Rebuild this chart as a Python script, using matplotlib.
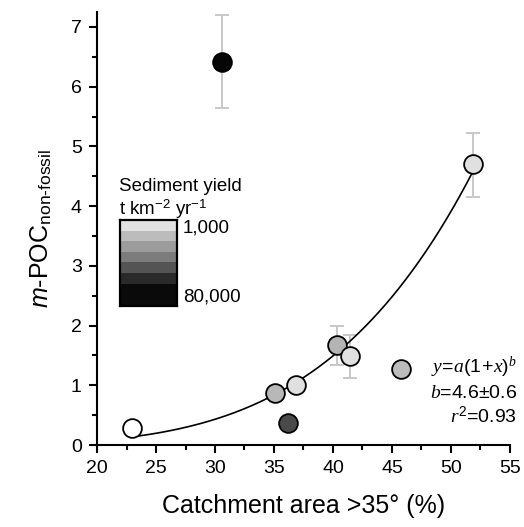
import numpy as np
import matplotlib
matplotlib.use("Agg")
import matplotlib.pyplot as plt
from matplotlib.ticker import MultipleLocator

plt.rcParams['font.family'] = ['Liberation Sans', 'DejaVu Sans']
plt.rcParams['mathtext.fontset'] = 'custom'
plt.rcParams['mathtext.rm'] = 'Liberation Sans'
plt.rcParams['mathtext.it'] = 'Liberation Serif:italic'
plt.rcParams['mathtext.sf'] = 'Liberation Sans:italic'

# ---- data ----
catchment = [23.0, 30.6, 35.1, 36.9, 36.2, 40.3, 41.4, 45.8, 51.9]
mpoc = [0.28, 6.41, 0.87, 1.00, 0.37, 1.67, 1.49, 1.27, 4.71]
err_lo = [0.0, 0.77, 0.0, 0.0, 0.0, 0.33, 0.37, 0.0, 0.55]
err_hi = [0.0, 0.79, 0.0, 0.0, 0.0, 0.33, 0.35, 0.0, 0.52]
point_colors = ['#ffffff', '#060606', '#b8b8b8', '#e0e0e0', '#4a4a4a',
                '#b4b4b4', '#e0e0e0', '#bcbcbc', '#e0e0e0']

curve_a = 1.79e-7
curve_b = 4.32
curve_x_range = [23.5, 51.9]

scale_colors = ['#0a0a0a', '#2a2a2a', '#545454', '#7c7c7c', '#9c9c9c', '#bcbcbc', '#e2e2e2']
scale_edges = [0, 2.1, 3.1, 4.1, 5.1, 6.1, 7.1, 8.1]
scale_labels = ['1,000', '80,000']

xticks = [20, 25, 30, 35, 40, 45, 50, 55]
yticks = [0, 1, 2, 3, 4, 5, 6, 7]

# ---- figure ----
fig = plt.figure(figsize=(5.24, 5.27), dpi=100)
ax = fig.add_axes([97/524, 1-445/527, 413/524, 433/527])

ax.set_xlim(20, 55)
ax.set_ylim(0, 7.25)

# curve
cx = np.linspace(curve_x_range[0], curve_x_range[1], 200)
ax.plot(cx, curve_a * cx**curve_b, color='black', lw=1.2, zorder=2)

# error bars
for x, y, lo, hi in zip(catchment, mpoc, err_lo, err_hi):
    if lo > 0 or hi > 0:
        ax.errorbar([x], [y], yerr=[[lo], [hi]], fmt='none', ecolor='#c8c8c8',
                    elinewidth=1.4, capsize=5, capthick=1.4, zorder=1)

# points
for x, y, c in zip(catchment, mpoc, point_colors):
    ax.plot([x], [y], 'o', ms=13.5, mfc=c, mec='black', mew=1.3, zorder=3)

# axes styling
for s in ['top', 'right']:
    ax.spines[s].set_visible(False)
for s in ['left', 'bottom']:
    ax.spines[s].set_linewidth(1.5)
ax.set_xticks(xticks)
ax.set_yticks(yticks)
ax.xaxis.set_minor_locator(MultipleLocator(2.5))
ax.yaxis.set_minor_locator(MultipleLocator(0.5))
ax.tick_params(which='major', direction='out', length=6, width=1.5, labelsize=14, pad=5)
ax.tick_params(which='minor', direction='out', length=3.5, width=1.5)

ax.set_xlabel('Catchment area >35° (%)', fontsize=18, labelpad=12)
ax.set_ylabel(r'$\mathsf{m}$-POC$_{\mathrm{non\text{-}fossil}}$', fontsize=18, labelpad=12)

# equation text
fig.text(517/524, 1-367/527, r'$y\!=\!a(\mathit{1}\!+\!x)^b$', fontsize=14, ha='right', va='center')
fig.text(517/524, 1-394/527, r'$b$=4.6±0.6', fontsize=14, ha='right', va='center')
fig.text(517/524, 1-417/527, r'$r^{2}$=0.93', fontsize=14, ha='right', va='center')

# sediment yield scale
cax = fig.add_axes([120/524, 1-306/527, 57/524, 86/527])
for i, c in enumerate(scale_colors):
    cax.axhspan(scale_edges[i], scale_edges[i+1], color=c, lw=0)
cax.set_xlim(0, 1)
cax.set_ylim(scale_edges[0], scale_edges[-1])
cax.set_xticks([])
cax.set_yticks([])
for s in cax.spines.values():
    s.set_linewidth(1.6)

fig.text(119/524, 1-186/527, 'Sediment yield', fontsize=13.5, ha='left', va='center')
fig.text(119/524, 1-209/527, r't km$^{-2}$ yr$^{-1}$', fontsize=13.5, ha='left', va='center')
fig.text(183/524, 1-228/527, scale_labels[0], fontsize=13.5, ha='left', va='center')
fig.text(183/524, 1-297/527, scale_labels[1], fontsize=13.5, ha='left', va='center')

fig.savefig('out.png', dpi=100)
